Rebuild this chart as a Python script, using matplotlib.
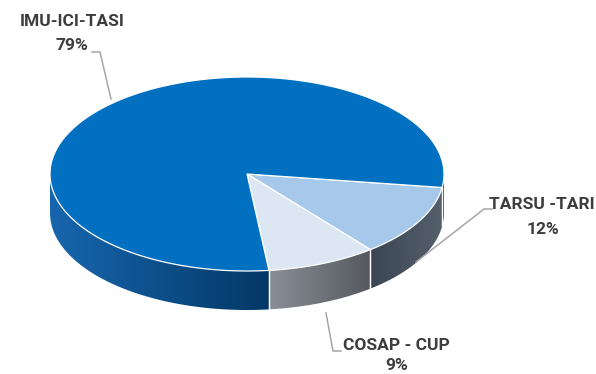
import numpy as np
import matplotlib
matplotlib.use('Agg')
import matplotlib.pyplot as plt
from matplotlib.patches import Polygon
from matplotlib.colors import to_rgb

# data
labels = ['TARSU -TARI', 'COSAP - CUP', 'IMU-ICI-TASI']
shares = [12, 9, 79]
top_colors = ['#A6C8EA', '#DCE7F3', '#0270C1']
side_colors = [('#3A4553', '#56606C'), ('#8A8F97', '#55595F'), ('#1766AE', '#033866')]

# geometry of the 3d pie (pixel space)
cx, cy = 247, 174
rx, ry = 197, 97
depth = 39
start = 8.0  # degrees, screen clockwise from 3 o'clock

fig = plt.figure(figsize=(5.96, 3.74), dpi=100)
ax = fig.add_axes([0, 0, 1, 1])
ax.set_xlim(0, 596)
ax.set_ylim(374, 0)
ax.axis('off')

def pt(t, dy=0):
    r = np.radians(t)
    return cx + rx * np.cos(r), cy + ry * np.sin(r) + dy

angles = [start]
for s in shares:
    angles.append(angles[-1] + s / sum(shares) * 360)

# sides (only the front half, 0..180 deg, is visible), gradient clipped to the side shape
for i in range(len(shares)):
    a0, a1 = angles[i], angles[i + 1]
    for lo, hi in [(0, 180), (360, 540)]:
        l, h = max(a0, lo), min(a1, hi)
        if h <= l:
            continue
        ts = np.linspace(l, h, 120)
        top = [pt(t) for t in ts]
        bot = [pt(t, depth) for t in ts[::-1]]
        poly = Polygon(top + bot, closed=True, fc='none', ec='none')
        ax.add_patch(poly)
        xs = [p[0] for p in top]
        ys = [p[1] for p in top]
        x0, x1 = min(xs), max(xs)
        grad = np.linspace(0, 1, 256)
        c0, c1 = np.array(to_rgb(side_colors[i][0])), np.array(to_rgb(side_colors[i][1]))
        img = (c0[None, None, :] + (c1 - c0)[None, None, :] * grad[None, :, None])
        im = ax.imshow(img, extent=[x0, x1, max(ys) + depth + 1, min(ys) - 1],
                       aspect='auto', interpolation='bilinear', zorder=1)
        im.set_clip_path(poly)
        for t in (l, h):
            if t not in (0, 180, 360, 540):
                x, y = pt(t)
                ax.plot([x, x], [y, y + depth], color='white', lw=0.9, zorder=2)

ax.set_xlim(0, 596)
ax.set_ylim(374, 0)

# tops
for i in range(len(shares)):
    ts = np.linspace(angles[i], angles[i + 1], 200)
    poly = [(cx, cy)] + [pt(t) for t in ts]
    ax.add_patch(Polygon(poly, closed=True, fc=top_colors[i], ec='white', lw=0.9, zorder=3))

# labels with leader lines
txt = dict(color='#3D3D3D', fontweight='bold', fontsize=12.5, ha='center', va='center',
           family=['Roboto', 'DejaVu Sans'])
line = dict(color='#A6A6A6', lw=1.1)

ax.text(72, 21, labels[2], **txt)
ax.text(72, 45, f'{shares[2]}%', **txt)
ax.plot([92, 100, 111], [52, 52, 99], **line)

ax.text(542, 204, labels[0], **txt)
ax.text(543, 229, f'{shares[0]}%', **txt)
ax.plot([492, 484, 416], [209, 209, 262], **line)

ax.text(396, 346, labels[1], **txt)
ax.text(397, 366, f'{shares[1]}%', **txt)
ax.plot([341, 333, 326], [351, 351, 313], **line)

fig.savefig('out.png', dpi=100)
